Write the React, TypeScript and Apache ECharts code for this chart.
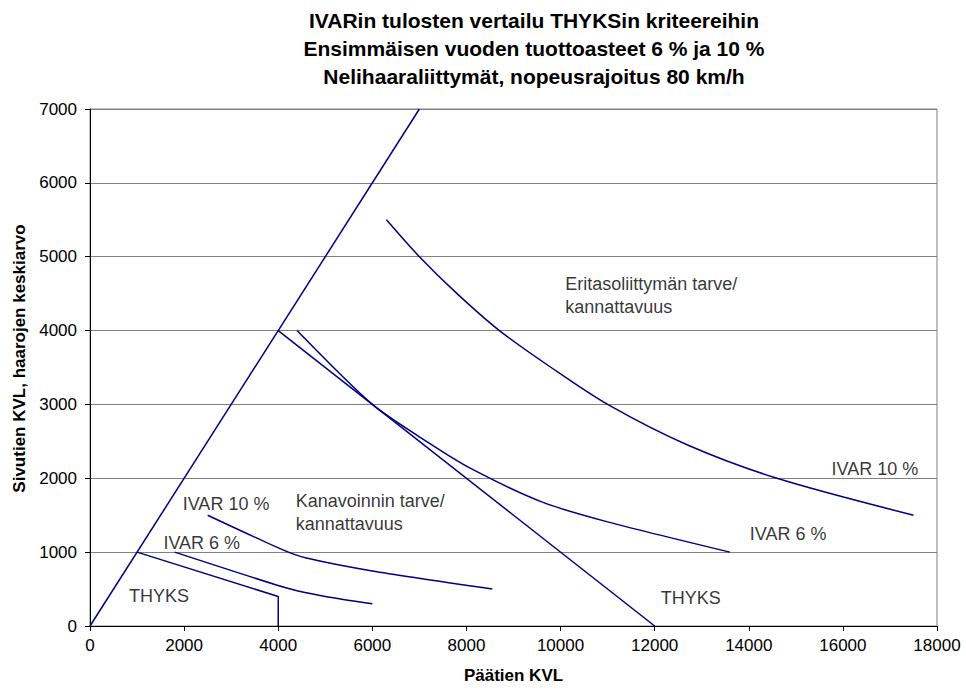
import React, { useEffect, useRef } from "react";
import * as echarts from "echarts";

// Axis ranges / ticks
const xMin = 0, xMax = 18000, xStep = 2000;
const yMin = 0, yMax = 7000, yStep = 1000;

// Title lines
const titleLines = [
  "IVARin tulosten vertailu THYKSin kriteereihin",
  "Ensimmäisen vuoden tuottoasteet 6 % ja 10 %",
  "Nelihaaraliittymät, nopeusrajoitus 80 km/h",
];
const xName = "Päätien KVL";
const yName = "Sivutien KVL, haarojen keskiarvo";

// Lines [x, y]
const diagonalLine = [[0, 0], [7000, 7000]];
const thyksMain = [[4000, 4000], [12000, 0]];
const thyksSmall = [[1000, 1000], [4000, 400], [4000, 0]];
const ivar6Small = [[1800, 1000], [4200, 510], [5000, 400], [6000, 300]];
const ivar10Small = [[2500, 1500], [4100, 1030], [4600, 920], [6000, 745], [8550, 500]];
const ivar6Large = [[4400, 4000], [6000, 3000], [7200, 2480], [8100, 2130], [9600, 1680], [11000, 1410], [13600, 1000]];
const ivar10Large = [[6300, 5500], [7000, 5000], [7800, 4500], [8700, 4000], [9800, 3500], [11000, 3000], [12700, 2450], [14600, 2000], [17500, 1500]];

// Annotations: [x, y, text] (left-anchored, vertically centred)
const annotations: [number, number, string][] = [
  [10100, 4480, "Eritasoliittymän tarve/\nkannattavuus"],
  [15760, 2126, "IVAR 10 %"],
  [14020, 1246, "IVAR 6 %"],
  [12130, 379, "THYKS"],
  [830, 402, "THYKS"],
  [1970, 1656, "IVAR 10 %"],
  [1560, 1124, "IVAR 6 %"],
  [4370, 1534, "Kanavoinnin tarve/\nkannattavuus"],
];

const FONT = "'Liberation Sans', Arial, sans-serif";
const LINE_COLOR = "#000080";

export default function App() {
  const ref = useRef<HTMLDivElement>(null);
  useEffect(() => {
    if (!ref.current) return;
    const chart = echarts.init(ref.current, undefined, { renderer: "svg" });
    const lineSeries = (name: string, data: number[][], smooth = 0) => ({
      name,
      type: "line",
      data,
      showSymbol: false,
      symbol: "none",
      silent: true,
      smooth,
      lineStyle: { color: LINE_COLOR, width: 1.5 },
      z: 3,
    });
    chart.setOption({
      animation: false,
      backgroundColor: "#ffffff",
      textStyle: { fontFamily: FONT },
      grid: {
        left: 90,
        right: 29,
        top: 109,
        bottom: 64,
        containLabel: false,
        show: true,
        borderColor: "#808080",
        borderWidth: 1,
      },
      graphic: [
        {
          type: "text",
          x: 534,
          y: 6,
          style: {
            text: titleLines.join("\n"),
            align: "center",
            verticalAlign: "top",
            fontFamily: FONT,
            fontSize: 21,
            fontWeight: "bold",
            lineHeight: 28,
            fill: "#000",
          },
        },
      ],
      xAxis: {
        type: "value",
        min: xMin,
        max: xMax,
        interval: xStep,
        name: xName,
        nameLocation: "middle",
        nameGap: 41,
        nameTextStyle: { fontFamily: FONT, fontSize: 17, fontWeight: "bold", color: "#000" },
        axisLine: { show: true, lineStyle: { color: "#000", width: 1 } },
        axisTick: { show: true, inside: false, length: 5, lineStyle: { color: "#000" } },
        axisLabel: { fontFamily: FONT, fontSize: 17, color: "#000", margin: 11, formatter: (v: number) => String(v) },
        splitLine: { show: false },
      },
      yAxis: {
        type: "value",
        min: yMin,
        max: yMax,
        interval: yStep,
        name: yName,
        nameLocation: "middle",
        nameGap: 60,
        nameRotate: 90,
        nameTextStyle: { fontFamily: FONT, fontSize: 17, fontWeight: "bold", color: "#000", padding: [0, 0, 0, 18] },
        axisLine: { show: true, lineStyle: { color: "#000", width: 1 } },
        axisTick: { show: true, inside: false, length: 5, lineStyle: { color: "#000" } },
        axisLabel: { fontFamily: FONT, fontSize: 17, color: "#000", margin: 13, formatter: (v: number) => String(v) },
        splitLine: { show: true, lineStyle: { color: "#808080", width: 1 } },
      },
      series: [
        lineSeries("diag", diagonalLine),
        lineSeries("thyksMain", thyksMain),
        lineSeries("thyksSmall", thyksSmall),
        lineSeries("ivar6Small", ivar6Small, 0.2),
        lineSeries("ivar10Small", ivar10Small, 0.2),
        lineSeries("ivar6Large", ivar6Large, 0.25),
        lineSeries("ivar10Large", ivar10Large, 0.3),
        {
          name: "labels",
          type: "scatter",
          silent: true,
          symbolSize: 0,
          data: annotations.map(([x, y, t]) => ({ value: [x, y], name: t })),
          label: {
            show: true,
            position: "right",
            distance: 0,
            formatter: "{b}",
            fontFamily: FONT,
            fontSize: 18,
            lineHeight: 23,
            color: "#000",
          },
          z: 4,
        },
      ],
    });
    return () => chart.dispose();
  }, []);
  return (
    <div
      ref={ref}
      style={{ position: "fixed", left: 0, top: 0, width: 966, height: 690, background: "#fff" }}
    />
  );
}
